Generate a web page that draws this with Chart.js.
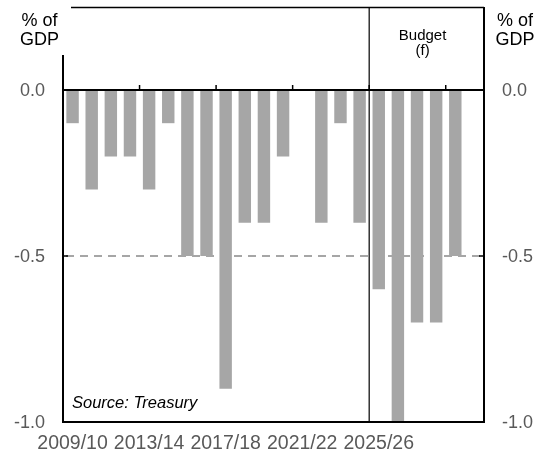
<!DOCTYPE html>
<html>
<head>
<meta charset="utf-8">
<title>Budget balance</title>
<script src="https://cdn.jsdelivr.net/npm/chart.js"></script>
<style>
  body { margin: 0; background: #fff; }
</style>
</head>
<body>
<canvas id="chart" width="542" height="452"></canvas>

<script>
// financial years, the last slot is left empty on purpose
var years = ["2009/10", "2010/11", "2011/12", "2012/13", "2013/14", "2014/15",
    "2015/16", "2016/17", "2017/18", "2018/19", "2019/20", "2020/21",
    "2021/22", "2022/23", "2023/24", "2024/25", "2025/26", "2026/27",
    "2027/28", "2028/29", "2029/30", ""];
// % of GDP
var balance = [-0.1, -0.3, -0.2, -0.2, -0.3, -0.1, -0.5, -0.5, -0.9, -0.4,
    -0.4, -0.2, null, -0.4, -0.1, -0.4, -0.6, -1.0, -0.7, -0.7, -0.5, null];
var yTicks = [0, -0.5, -1.0];
var xTickLabels = ["2009/10", "2013/14", "2017/18", "2021/22", "2025/26"];
var firstForecast = "2025/26";

var FONT = "'Liberation Sans', Arial, sans-serif";

// dashed -0.5 line sits behind the bars
var gridPlugin = {
    id: "grid",
    beforeDatasetsDraw: function (chart) {
        var ctx = chart.ctx, a = chart.chartArea, y = chart.scales.y;
        ctx.save();
        ctx.strokeStyle = "#a6a6a6";
        ctx.lineWidth = 2;
        ctx.setLineDash([8, 6]);
        var py = y.getPixelForValue(-0.5);
        ctx.beginPath();
        ctx.moveTo(a.left + 3, py);
        ctx.lineTo(a.right, py);
        ctx.stroke();
        ctx.restore();
    }
};

// frame, zero line, ticks and all the text
var framePlugin = {
    id: "frame",
    afterDatasetsDraw: function (chart) {
        var ctx = chart.ctx, a = chart.chartArea;
        var x = chart.scales.x, y = chart.scales.y;
        var step = x.getPixelForValue(1) - x.getPixelForValue(0);
        ctx.save();
        ctx.strokeStyle = "#000";

        // zero line with small ticks every 4 years
        var y0 = y.getPixelForValue(0);
        ctx.lineWidth = 2;
        ctx.beginPath();
        ctx.moveTo(a.left, y0);
        ctx.lineTo(a.right, y0);
        ctx.stroke();
        ctx.lineWidth = 1.5;
        for (var i = 4; i < years.length; i += 4) {
            var tx = x.getPixelForValue(i) - step / 2;
            ctx.beginPath();
            ctx.moveTo(tx, y0);
            ctx.lineTo(tx, y0 - 5);
            ctx.stroke();
        }

        // forecast divider
        var bx = x.getPixelForValue(years.indexOf(firstForecast)) - step / 2;
        ctx.lineWidth = 1.2;
        ctx.beginPath();
        ctx.moveTo(bx, a.top);
        ctx.lineTo(bx, a.bottom);
        ctx.stroke();

        // box
        ctx.lineWidth = 2;
        ctx.beginPath();
        ctx.moveTo(a.left, 55);
        ctx.lineTo(a.left, a.bottom);
        ctx.lineTo(a.right, a.bottom);
        ctx.lineTo(a.right, a.top);
        ctx.stroke();
        ctx.lineWidth = 1.5;
        ctx.beginPath();
        ctx.moveTo(71, a.top + 0.5);
        ctx.lineTo(a.right, a.top + 0.5);
        ctx.stroke();

        // side ticks at -0.5
        var ym = y.getPixelForValue(-0.5);
        ctx.beginPath();
        ctx.moveTo(a.left, ym);
        ctx.lineTo(a.left + 5, ym);
        ctx.moveTo(a.right, ym);
        ctx.lineTo(a.right - 5, ym);
        ctx.stroke();

        // y labels on both sides
        ctx.fillStyle = "#595959";
        ctx.font = "18px " + FONT;
        ctx.textBaseline = "middle";
        yTicks.forEach(function (v) {
            var py = y.getPixelForValue(v) + 1;
            ctx.textAlign = "right";
            ctx.fillText(v.toFixed(1), 45, py);
            ctx.textAlign = "left";
            ctx.fillText(v.toFixed(1), 502, py);
        });

        // x labels
        ctx.font = "19.5px " + FONT;
        ctx.textAlign = "center";
        ctx.textBaseline = "alphabetic";
        xTickLabels.forEach(function (lab) {
            ctx.fillText(lab, x.getPixelForValue(years.indexOf(lab)), 449);
        });

        // unit labels
        ctx.fillStyle = "#000";
        ctx.font = "18px " + FONT;
        ctx.fillText("% of", 39.5, 26);
        ctx.fillText("GDP", 39.5, 45);
        ctx.fillText("% of", 515, 26);
        ctx.fillText("GDP", 515, 45);

        ctx.font = "15px " + FONT;
        var mid = (bx + a.right) / 2 - 4;
        ctx.fillText("Budget", mid, 40);
        ctx.fillText("(f)", mid, 55);

        ctx.font = "italic 16.5px " + FONT;
        ctx.textAlign = "left";
        ctx.fillText("Source: Treasury", 72, 408);
        ctx.restore();
    }
};

var ctx = document.getElementById("chart").getContext("2d");
var chart = new Chart(ctx, {
    type: "bar",
    data: {
        labels: years,
        datasets: [{
            data: balance,
            backgroundColor: "#a6a6a6",
            borderWidth: 0,
            barPercentage: 0.65,
            categoryPercentage: 1.0
        }]
    },
    options: {
        responsive: false,
        animation: false,
        devicePixelRatio: 1,
        layout: { padding: { left: 63, right: 58, top: 7, bottom: 30 } },
        plugins: {
            legend: { display: false },
            tooltip: { enabled: false }
        },
        scales: {
            x: { display: false },
            y: { display: false, min: -1.0, max: 0.25 }
        }
    },
    plugins: [gridPlugin, framePlugin]
});
</script>
</body>
</html>
